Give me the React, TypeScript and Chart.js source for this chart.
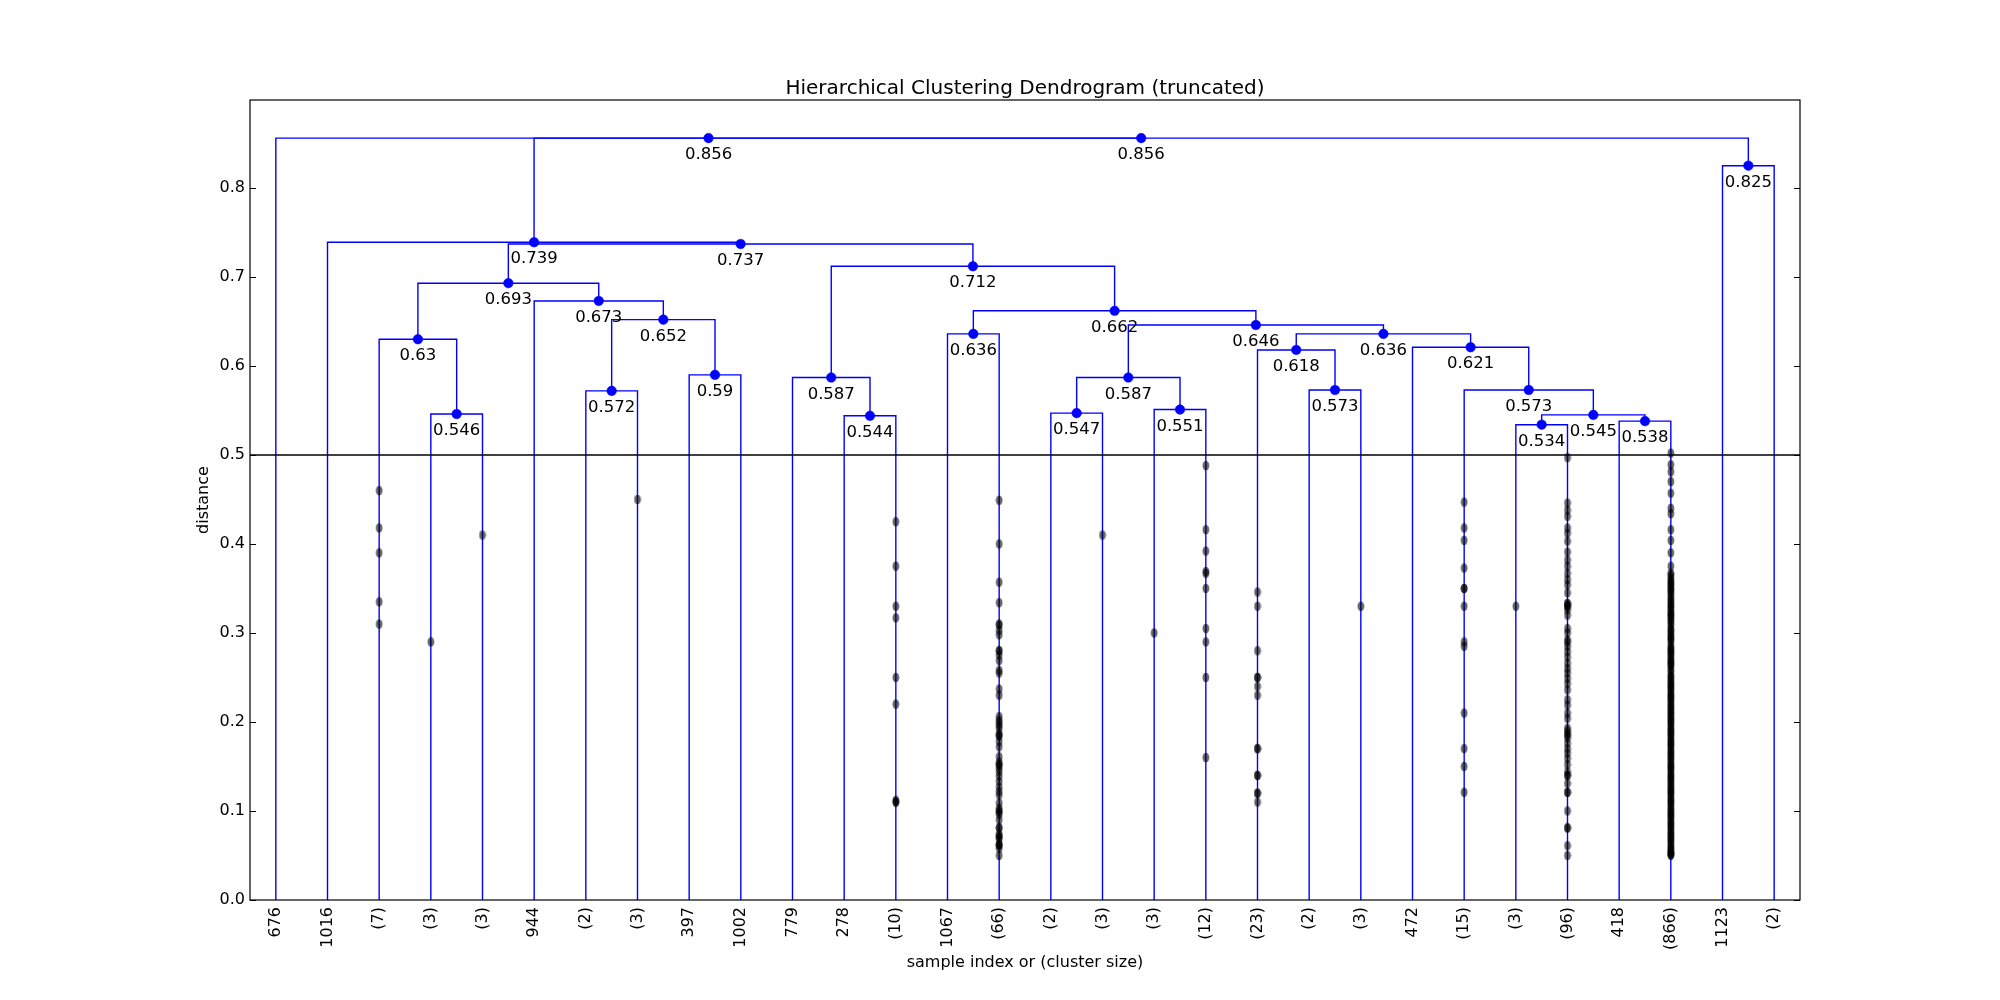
import React, { useEffect, useRef } from "react";
import { Chart, registerables } from "chart.js";

Chart.register(...registerables);

// ---------------- data ----------------
const chartTitle = "Hierarchical Clustering Dendrogram (truncated)";
const xAxisTitle = "sample index or (cluster size)";
const yAxisTitle = "distance";

const leafLabels = [
  "676", "1016", "(7)", "(3)", "(3)", "944", "(2)", "(3)", "397", "1002",
  "779", "278", "(10)", "1067", "(66)", "(2)", "(3)", "(3)", "(12)", "(23)",
  "(2)", "(3)", "472", "(15)", "(3)", "(96)", "418", "(866)", "1123", "(2)",
];

// children of each merge: "L#" = leaf index, "M#" = earlier merge index
const mergeLeft = [
  "L3", "L2", "L6", "L8", "M2", "L5", "M1", "L11", "L10", "L13",
  "L15", "L17", "M10", "L20", "L19", "L24", "L26", "M15", "L23", "L22",
  "M14", "M12", "M9", "M8", "M6", "L1", "L28", "M25", "L0",
];
const mergeRight = [
  "L4", "M0", "L7", "L9", "M3", "M4", "M5", "L12", "M7", "L14",
  "L16", "L18", "M11", "L21", "M13", "L25", "L27", "M16", "M17", "M18",
  "M19", "M20", "M21", "M22", "M23", "M24", "L29", "M26", "M27",
];
const mergeHeights = [
  0.546, 0.63, 0.572, 0.59, 0.652, 0.673, 0.693, 0.544, 0.587, 0.636,
  0.547, 0.551, 0.587, 0.573, 0.618, 0.534, 0.538, 0.545, 0.573, 0.621,
  0.636, 0.646, 0.662, 0.712, 0.737, 0.739, 0.825, 0.856, 0.856,
];

const cutDistance = 0.5;
const yTickValues = [0, 0.1, 0.2, 0.3, 0.4, 0.5, 0.6, 0.7, 0.8];
const yMax = 0.8988;

// sample distances shown under the truncated leaves
const leaf2Samples = [0.46, 0.418, 0.39, 0.335, 0.31];
const leaf3Samples = [0.29];
const leaf4Samples = [0.41];
const leaf7Samples = [0.45];
const leaf12Samples = [0.425, 0.375, 0.33, 0.317, 0.25, 0.22, 0.11, 0.11, 0.112];
const leaf14Samples = [
  0.449, 0.4, 0.357, 0.334, 0.309, 0.303, 0.298, 0.28, 0.275, 0.269, 0.258, 0.255,
  0.237, 0.23, 0.206, 0.202, 0.199, 0.193, 0.187, 0.184, 0.178, 0.172, 0.161, 0.155,
  0.152, 0.148, 0.144, 0.139, 0.133, 0.127, 0.122, 0.118, 0.109, 0.103, 0.099, 0.096,
  0.09, 0.081, 0.073, 0.069, 0.062, 0.058, 0.05, 0.062, 0.07, 0.081, 0.1, 0.152,
  0.185, 0.196, 0.28, 0.31, 0.062, 0.073,
];
const leaf16Samples = [0.41];
const leaf17Samples = [0.3];
const leaf18Samples = [0.488, 0.416, 0.392, 0.369, 0.367, 0.35, 0.305, 0.29, 0.25, 0.16];
const leaf19Samples = [0.346, 0.33, 0.28, 0.25, 0.25, 0.24, 0.23, 0.17, 0.17, 0.14, 0.14, 0.12, 0.12, 0.11];
const leaf21Samples = [0.33];
const leaf23Samples = [0.447, 0.418, 0.404, 0.373, 0.35, 0.35, 0.33, 0.29, 0.285, 0.21, 0.17, 0.15, 0.121];
const leaf24Samples = [0.33];
const leaf25Samples = [
  0.497, 0.446, 0.438, 0.431, 0.418, 0.412, 0.403, 0.391, 0.382, 0.375, 0.367, 0.36,
  0.354, 0.345, 0.333, 0.33, 0.326, 0.32, 0.305, 0.3, 0.292, 0.285, 0.279, 0.273,
  0.266, 0.26, 0.255, 0.249, 0.243, 0.236, 0.225, 0.219, 0.21, 0.204, 0.193, 0.187,
  0.182, 0.176, 0.17, 0.165, 0.159, 0.152, 0.144, 0.14, 0.131, 0.121, 0.1, 0.081,
  0.061, 0.05, 0.333, 0.33, 0.29, 0.19, 0.185, 0.14, 0.121, 0.081,
];
const leaf27Samples = [
  0.502, 0.489, 0.481, 0.47, 0.457, 0.44, 0.434, 0.416, 0.404, 0.39, 0.375, 0.367,
  0.362, 0.357, 0.353, 0.349, 0.344, 0.341, 0.336, 0.331, 0.327, 0.322, 0.319, 0.314,
  0.309, 0.305, 0.301, 0.296, 0.292, 0.289, 0.283, 0.279, 0.275, 0.27, 0.266, 0.263,
  0.257, 0.253, 0.249, 0.244, 0.24, 0.236, 0.231, 0.227, 0.223, 0.218, 0.214, 0.21,
  0.205, 0.201, 0.197, 0.192, 0.188, 0.184, 0.179, 0.175, 0.171, 0.166, 0.162, 0.158,
  0.153, 0.149, 0.145, 0.14, 0.136, 0.132, 0.127, 0.123, 0.119, 0.114, 0.11, 0.106,
  0.101, 0.097, 0.093, 0.088, 0.084, 0.08, 0.075, 0.071, 0.067, 0.062, 0.058, 0.054,
  0.051, 0.365, 0.355, 0.346, 0.338, 0.329, 0.32, 0.311, 0.303, 0.294, 0.285, 0.277,
  0.268, 0.259, 0.251, 0.242, 0.233, 0.225, 0.216, 0.207, 0.199, 0.19, 0.181, 0.173,
  0.164, 0.155, 0.147, 0.138, 0.129, 0.121, 0.112, 0.103, 0.095, 0.086, 0.077, 0.069,
  0.06, 0.052, 0.359, 0.35, 0.333, 0.324, 0.316, 0.298, 0.281, 0.272, 0.264, 0.246,
  0.238, 0.229, 0.22, 0.211, 0.203, 0.194, 0.186, 0.177, 0.168, 0.16, 0.151, 0.142,
  0.134, 0.125, 0.117, 0.108, 0.099, 0.091, 0.082, 0.073, 0.065, 0.056, 0.05, 0.053,
];
const sampleLeafIndex = [2, 3, 4, 7, 12, 14, 16, 17, 18, 19, 21, 23, 24, 25, 27];
const sampleLists = [
  leaf2Samples, leaf3Samples, leaf4Samples, leaf7Samples, leaf12Samples, leaf14Samples,
  leaf16Samples, leaf17Samples, leaf18Samples, leaf19Samples, leaf21Samples,
  leaf23Samples, leaf24Samples, leaf25Samples, leaf27Samples,
];

// ---------------- styling ----------------
const FONT = "'DejaVu Sans', 'Liberation Sans', sans-serif";
const BLUE = "#0000ff";

function leafPos(i: number) {
  return 5 + 10 * i;
}

export default function App() {
  const ref = useRef<HTMLCanvasElement | null>(null);

  useEffect(() => {
    document.body.style.margin = "0";
    const canvas = ref.current;
    if (!canvas) return;

    // dendrogram geometry from the merge table
    const mx: number[] = [];
    const child = (s: string) => {
      const idx = parseInt(s.slice(1), 10);
      if (s[0] === "L") return { x: leafPos(idx), h: 0 };
      return { x: mx[idx], h: mergeHeights[idx] };
    };
    const lineSets: any[] = [];
    const dots: { x: number; y: number }[] = [];
    mergeHeights.forEach((h, k) => {
      const a = child(mergeLeft[k]);
      const b = child(mergeRight[k]);
      const x = (a.x + b.x) / 2;
      mx[k] = x;
      dots.push({ x, y: h });
      lineSets.push({
        data: [
          { x: a.x, y: a.h },
          { x: a.x, y: h },
          { x: b.x, y: h },
          { x: b.x, y: b.h },
        ],
        showLine: true,
        borderColor: BLUE,
        borderWidth: 1.4,
        pointRadius: 0,
        fill: false,
      });
    });

    const samplePts: { x: number; y: number }[] = [];
    sampleLeafIndex.forEach((li, j) => {
      sampleLists[j].forEach((v) => samplePts.push({ x: leafPos(li), y: v }));
    });

    const ell = document.createElement("canvas");
    ell.width = 8;
    ell.height = 11;
    const ec = ell.getContext("2d")!;
    ec.fillStyle = "rgba(0,0,0,0.6)";
    ec.beginPath();
    ec.ellipse(4, 5.5, 3.4, 4.8, 0, 0, Math.PI * 2);
    ec.fill();

    const leafTicks = leafLabels.map((_, i) => ({ value: leafPos(i) }));

    const decor = {
      id: "decor",
      afterDraw(chart: any) {
        const { ctx, chartArea } = chart;
        const ys = chart.scales.y;
        const xs = chart.scales.x;
        const { left, right, top, bottom } = chartArea;
        ctx.save();
        // frame
        ctx.strokeStyle = "#000";
        ctx.lineWidth = 1.2;
        ctx.strokeRect(left, top, right - left, bottom - top);
        // inward ticks on left/right
        ctx.lineWidth = 1;
        yTickValues.forEach((v) => {
          const py = Math.round(ys.getPixelForValue(v)) + 0.5;
          ctx.beginPath();
          ctx.moveTo(left, py);
          ctx.lineTo(left + 6, py);
          ctx.moveTo(right, py);
          ctx.lineTo(right - 6, py);
          ctx.stroke();
        });
        // merge labels
        ctx.fillStyle = "#000";
        ctx.font = `16.5px ${FONT}`;
        ctx.textAlign = "center";
        ctx.textBaseline = "top";
        mergeHeights.forEach((h, k) => {
          const px = xs.getPixelForValue(mx[k]);
          const py = ys.getPixelForValue(h);
          ctx.fillText(String(Number(h.toPrecision(3))), px, py + 8.5);
        });
        // title
        ctx.textBaseline = "alphabetic";
        ctx.font = `20px ${FONT}`;
        ctx.fillText(chartTitle, (left + right) / 2, 93.5);
        // x title
        ctx.font = `16px ${FONT}`;
        ctx.fillText(xAxisTitle, (left + right) / 2, 967);
        // y title
        ctx.translate(208, (top + bottom) / 2);
        ctx.rotate(-Math.PI / 2);
        ctx.fillText(yAxisTitle, 0, 0);
        ctx.restore();
      },
    };

    const chart = new Chart(canvas, {
      type: "scatter",
      data: {
        datasets: [
          {
            data: dots,
            pointRadius: 4.8,
            pointBackgroundColor: BLUE,
            pointBorderColor: BLUE,
            pointBorderWidth: 0.5,
            showLine: false,
          },
          {
            data: samplePts,
            pointStyle: ell as any,
            showLine: false,
          },
          {
            data: [
              { x: 0, y: cutDistance },
              { x: 300, y: cutDistance },
            ],
            showLine: true,
            borderColor: "#000",
            borderWidth: 1.4,
            pointRadius: 0,
          },
          ...lineSets,
        ],
      },
      options: {
        animation: false,
        responsive: false,
        devicePixelRatio: 1,
        layout: { padding: { left: 0, right: 200, top: 100, bottom: 0 } },
        plugins: {
          legend: { display: false },
          tooltip: { enabled: false },
          title: { display: false },
        },
        scales: {
          x: {
            type: "linear",
            min: 0,
            max: 300,
            grid: { display: false, drawTicks: false },
            border: { display: false },
            afterBuildTicks: (scale: any) => {
              scale.ticks = leafTicks.map((t) => ({ ...t }));
            },
            afterFit: (scale: any) => {
              scale.height = 100;
            },
            ticks: {
              autoSkip: false,
              maxRotation: 90,
              minRotation: 90,
              padding: 7,
              color: "#000",
              font: { family: FONT, size: 16 },
              callback: (v: any) => {
                const i = Math.round((Number(v) - 5) / 10);
                return leafLabels[i] ?? "";
              },
            },
          },
          y: {
            type: "linear",
            min: 0,
            max: yMax,
            grid: { display: false, drawTicks: false },
            border: { display: false },
            afterBuildTicks: (scale: any) => {
              scale.ticks = yTickValues.map((v) => ({ value: v }));
            },
            afterFit: (scale: any) => {
              scale.width = 250;
            },
            ticks: {
              padding: 5,
              color: "#000",
              font: { family: FONT, size: 16 },
              callback: (v: any) => Number(v).toFixed(1),
            },
          },
        },
      },
      plugins: [decor],
    });

    return () => chart.destroy();
  }, []);

  return (
    <canvas
      ref={ref}
      width={2000}
      height={1000}
      style={{ display: "block", width: "2000px", height: "1000px" }}
    />
  );
}
